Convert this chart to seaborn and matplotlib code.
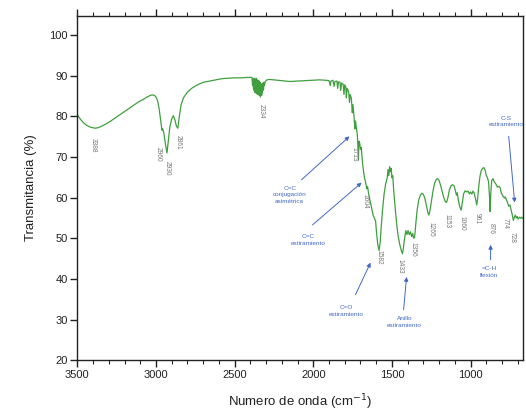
import matplotlib
matplotlib.use("Agg")
import matplotlib.pyplot as plt
from matplotlib.ticker import MultipleLocator
import seaborn as sns
import pandas as pd

# FTIR spectrum: wavenumber (cm-1) and transmittance (%)
wavenumber = [
    3500, 3480, 3460, 3440, 3420, 3400, 3388, 3370, 3350, 3320, 3290, 3260,
    3230, 3200, 3170, 3140, 3110, 3080, 3060, 3040, 3025, 3010, 3000, 2990,
    2980, 2970, 2962, 2958, 2950, 2940, 2930, 2922, 2912, 2900, 2890, 2880,
    2870, 2861, 2852, 2840, 2825, 2800, 2770, 2740, 2700, 2660, 2620, 2580,
    2540, 2500, 2460, 2420, 2390, 2386, 2383, 2380, 2378, 2376, 2374, 2372,
    2370, 2368, 2366, 2364, 2362, 2360, 2358, 2356, 2354, 2352, 2350, 2348,
    2346, 2344, 2342, 2340, 2338, 2336, 2334, 2332, 2330, 2328, 2326, 2324,
    2322, 2320, 2318, 2316, 2314, 2312,
    2305, 2295, 2280, 2250, 2200, 2150, 2100, 2050, 2000, 1960, 1920, 1900,
    1892, 1888, 1875, 1868, 1862, 1850, 1845, 1840, 1830, 1826, 1820, 1810,
    1805, 1800, 1793, 1790, 1785, 1775, 1770, 1765, 1758, 1752, 1748, 1742,
    1736, 1732, 1725, 1720, 1716, 1713, 1710, 1705, 1700, 1695, 1690, 1684,
    1680, 1675, 1668, 1660, 1655, 1648, 1640, 1630, 1620, 1612, 1604, 1598,
    1590, 1582, 1575, 1568, 1560, 1550, 1540, 1530, 1525, 1520, 1515, 1510,
    1505, 1500, 1495, 1490, 1485, 1478, 1470, 1460, 1450, 1440, 1433, 1428,
    1420, 1412, 1405, 1398, 1390, 1382, 1375, 1368, 1362, 1356, 1350, 1340,
    1330, 1320, 1310, 1300, 1290, 1280, 1272, 1265, 1258, 1250, 1240, 1230,
    1220, 1210, 1200, 1190, 1180, 1170, 1160, 1153, 1145, 1135, 1125, 1115,
    1105, 1098, 1090, 1085, 1078, 1070, 1060, 1052, 1045, 1035, 1025, 1016,
    1008, 1000, 992, 985, 978, 970, 961, 955, 948, 940, 932, 924,
    916, 908, 900, 893, 886, 880, 876, 872, 866, 858, 850, 840,
    830, 820, 812, 805, 795, 785, 780, 774, 766, 758, 750, 742,
    736, 728, 722, 716, 710, 704, 698, 690, 682, 675, 668,
]
transmittance = [
    80.4, 79.3, 78.4, 77.8, 77.4, 77.2, 77.1, 77.2, 77.5, 78.1, 78.8, 79.6,
    80.4, 81.2, 82.0, 82.8, 83.6, 84.2, 84.7, 85.1, 85.3, 85.2, 84.8, 83.9,
    81.9, 78.9, 76.6, 77.0, 75.9, 73.2, 71.0, 73.9, 77.4, 79.4, 80.2, 79.2,
    77.6, 77.1, 79.9, 82.9, 84.6, 86.0, 87.0, 87.7, 88.4, 88.7, 89.0, 89.3,
    89.4, 89.5, 89.5, 89.6, 89.6, 87.6, 89.2, 86.8, 89.4, 86.4, 89.0, 86.0,
    89.2, 85.8, 88.8, 86.2, 89.4, 85.6, 88.6, 86.6, 89.0, 85.4, 88.2, 86.0,
    88.8, 85.2, 87.8, 85.8, 88.4, 84.8, 87.6, 85.6, 88.0, 85.2, 87.4, 86.0,
    88.2, 86.4, 87.8, 86.8, 88.4, 87.6,
    88.6, 89.0, 89.1, 89.0, 88.8, 88.6, 88.7, 88.8, 88.9, 89.0, 88.9, 88.8,
    87.6, 88.7, 88.9, 87.4, 88.6, 88.7, 86.9, 88.5, 88.4, 86.4, 88.2, 87.9,
    85.4, 87.8, 87.2, 84.6, 86.9, 86.0, 83.4, 85.4, 84.4, 80.9, 82.9, 80.4,
    76.9, 78.9, 76.9, 75.4, 72.4, 69.4, 73.9, 73.4, 71.9, 72.4, 69.9, 67.4,
    66.4, 64.9, 63.9, 62.2, 62.7, 60.9, 59.4, 57.4, 55.7, 55.0, 54.2, 51.4,
    48.4, 47.0, 48.9, 52.9, 56.9, 60.9, 63.4, 64.9, 66.9, 65.4, 67.6, 66.4,
    67.2, 64.9, 65.4, 62.4, 59.9, 56.9, 53.4, 50.4, 48.4, 46.9, 46.2, 47.4,
    49.9, 51.9, 50.9, 51.9, 50.9, 51.6, 50.4, 51.2, 50.0, 50.2, 52.9, 56.9,
    59.4, 60.6, 61.1, 60.8, 59.7, 57.9, 56.4, 55.7, 56.9, 58.9, 61.4, 63.4,
    64.4, 64.7, 64.2, 62.9, 61.4, 59.9, 59.0, 58.8, 59.9, 61.9, 62.9, 63.2,
    62.9, 61.9, 60.6, 61.2, 59.4, 57.9, 56.9, 58.9, 60.9, 61.7, 61.4, 61.6,
    60.9, 61.4, 60.9, 61.6, 61.2, 59.9, 58.2, 59.9, 62.9, 65.4, 66.7, 67.2,
    67.4, 66.8, 65.4, 64.9, 63.9, 60.4, 56.6, 60.9, 64.2, 64.7, 63.9, 63.4,
    62.6, 62.8, 62.4, 61.2, 60.4, 59.9, 60.2, 59.6, 58.9, 57.9, 58.2, 56.9,
    55.9, 54.4, 55.2, 55.7, 55.0, 55.4, 54.7, 55.2, 54.9, 55.2, 54.9,
]

# Peak labels (cm-1) and their vertical placement
peak_labels = ["3388", "2960", "2930", "2861", "2334", "1713", "1604", "1582",
               "1433", "1356", "1265", "1153", "1060", "961", "876", "774", "728"]
peak_text_y = [72.8, 70.6, 67.2, 73.6, 81.2, 70.6, 59.0, 45.4,
               43.0, 47.2, 52.1, 54.3, 53.8, 54.8, 52.4, 53.6, 50.1]
peak_text_dx = [-2, -4, 0, 0, 0, -4, -11, 0, -2, -2, 2, 0, 1, 0, 1, -1, -1]

# Band assignments: text, text position, arrow tail, arrow head
band_texts = ["C=C\nconjugación\nasimétrica", "C=C\nestiramiento",
              "C=O\nestiramiento", "Anillo\nestiramiento",
              "=C-H\nflexión", "C-S\nestiramiento"]
band_text_xy = [(2150, 60.7), (2035, 49.6), (1790, 32.1), (1420, 29.4),
                (879, 41.7), (772, 78.8)]
band_tail_xy = [(2075, 64.4), (2005, 53.3), (1732, 36.1), (1426, 32.4),
                (873, 44.7), (758, 75.1)]
band_head_xy = [(1770, 75.1), (1693, 63.7), (1636, 44.0), (1407, 40.5),
                (873, 48.4), (720, 58.8)]

spectrum = pd.DataFrame({"wn": wavenumber, "T": transmittance})

sns.set_theme(style="ticks")
plt.rcParams["font.family"] = ["Liberation Sans", "DejaVu Sans"]

fig = plt.figure(figsize=(5.26, 4.13), dpi=100)
ax = fig.add_axes([0.147, 0.128, 0.847, 0.834])

line_color = "#3f9f3f"
blue = "#4169c6"

sns.lineplot(data=spectrum, x="wn", y="T", sort=False, estimator=None,
             color=line_color, linewidth=0.9, ax=ax)

ax.set_xlim(3500, 668)
ax.set_ylim(20, 104.8)
ax.xaxis.set_major_locator(MultipleLocator(500))
ax.xaxis.set_minor_locator(MultipleLocator(100))
ax.yaxis.set_major_locator(MultipleLocator(10))

for s in ax.spines.values():
    s.set_visible(True)
    s.set_linewidth(1.0)
    s.set_color("#222222")

ax.tick_params(axis="x", which="major", direction="out", length=5, width=1,
               top=True, labelsize=8, colors="#222222", pad=2)
ax.tick_params(axis="x", which="minor", direction="out", length=3, width=0.8,
               top=True)
ax.tick_params(axis="y", which="major", direction="out", length=5, width=1,
               right=False, labelsize=8, colors="#222222", pad=2)

ax.set_xlabel("Numero de onda (cm$^{-1}$)", fontsize=9.5, color="#222222",
              labelpad=9)
ax.set_ylabel("Transmitancia (%)", fontsize=9.5, color="#222222", labelpad=9)

# Peak wavenumber labels, rotated
for lab, ty, dx in zip(peak_labels, peak_text_y, peak_text_dx):
    ax.annotate(lab, xy=(float(lab), ty), xytext=(dx, 0),
                textcoords="offset pixels", rotation=270,
                ha="center", va="center", fontsize=4.8, color="#777777")

# Band assignments with arrows
for txt, txy, tail, head in zip(band_texts, band_text_xy, band_tail_xy,
                                band_head_xy):
    ax.text(txy[0], txy[1], txt, ha="center", va="center", fontsize=4.6,
            color=blue, linespacing=1.35)
    ax.annotate("", xy=head, xytext=tail,
                arrowprops=dict(arrowstyle="-|>", color=blue, lw=0.7,
                                mutation_scale=6, shrinkA=0, shrinkB=0))

fig.savefig("out.png", dpi=100)
